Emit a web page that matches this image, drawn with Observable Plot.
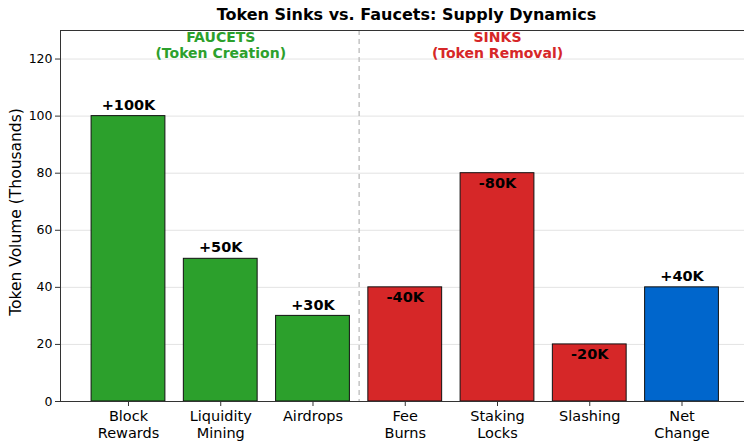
<!DOCTYPE html>
<html>
<head>
<meta charset="utf-8">
<script src="https://cdn.jsdelivr.net/npm/d3@7"></script>
<script src="https://cdn.jsdelivr.net/npm/@observablehq/plot@0.6"></script>
<style>
  html, body { margin: 0; padding: 0; background: white; }
</style>
</head>
<body>
<div id="chart"></div>
<script>
const title = "Token Sinks vs. Faucets: Supply Dynamics";
const yLabel = "Token Volume (Thousands)";
const categories = ["Block\nRewards", "Liquidity\nMining", "Airdrops", "Fee\nBurns", "Staking\nLocks", "Slashing", "Net\nChange"];
const values = [100, 50, 30, 40, 80, 20, 40];
const groups = ["faucet", "faucet", "faucet", "sink", "sink", "sink", "net"];
const valueLabels = ["+100K", "+50K", "+30K", "-40K", "-80K", "-20K", "+40K"];
const yTicks = [0, 20, 40, 60, 80, 100, 120];
const groupNames = ["faucet", "sink", "net"];
const groupColors = ["#2ca02c", "#d62728", "#0066cc"];
const sectionTexts = ["FAUCETS\n(Token Creation)", "SINKS\n(Token Removal)"];
const sectionAt = ["Liquidity\nMining", "Staking\nLocks"];
const sectionGroup = ["faucet", "sink"];
const dividerBetween = ["Airdrops", "Fee\nBurns"];

const data = categories.map((c, i) => ({i, cat: c, value: values[i], group: groups[i], label: valueLabels[i]}));
const sections = sectionTexts.map((t, k) => ({text: t, i: categories.indexOf(sectionAt[k]), group: sectionGroup[k]}));
const dividerX = (categories.indexOf(dividerBetween[0]) + categories.indexOf(dividerBetween[1])) / 2;
const colorOf = g => groupColors[groupNames.indexOf(g)];
const xMin = -0.737, xMax = 6.737;

const chart = Plot.plot({
  width: 744,
  height: 441,
  marginLeft: 60,
  marginRight: 0,
  marginTop: 30,
  marginBottom: 40,
  style: {fontFamily: "DejaVu Sans", background: "white", overflow: "visible", color: "#000"},
  x: {type: "linear", domain: [xMin, xMax], range: [60, 749.5]},
  y: {domain: [0, 130]},
  color: {domain: groupNames, range: groupColors},
  marks: [
    Plot.gridY(yTicks, {stroke: "#e3e3e3", strokeOpacity: 1}),
    Plot.ruleX([dividerX], {stroke: "#b5b5b5", strokeDasharray: "5,4", strokeWidth: 1.2}),
    Plot.rectY(data, {x1: d => d.i - 0.4, x2: d => d.i + 0.4, y: "value", fill: "group", stroke: "#111", strokeWidth: 1}),
    Plot.text(data.filter(d => d.group !== "sink"), {x: "i", y: "value", text: "label", dy: -11, fontWeight: "bold", fontSize: 14.5, fill: "#000"}),
    Plot.text(data.filter(d => d.group === "sink"), {x: "i", y: "value", text: "label", dy: 10, fontWeight: "bold", fontSize: 14.5, fill: "#000"}),
    Plot.text(sections, {x: "i", frameAnchor: "top", lineAnchor: "top", dy: 0, text: "text", fill: d => colorOf(d.group), fontWeight: "bold", fontSize: 14, lineHeight: 1.14}),
    Plot.ruleY([0], {stroke: "#333", strokeWidth: 1}),
    Plot.ruleY([130], {stroke: "#333", strokeWidth: 1}),
    Plot.ruleX([xMin], {stroke: "#333", strokeWidth: 1}),
    Plot.axisY({ticks: yTicks, tickSize: 5, tickPadding: 3, fontSize: 12.5, label: null, stroke: "#333"}),
    Plot.axisX({ticks: categories.map((c, i) => i), tickFormat: i => categories[i], tickSize: 5, tickPadding: 3, fontSize: 14.5, lineHeight: 1.15, label: null, stroke: "#333"}),
    Plot.text([title], {frameAnchor: "top", dy: -11, dx: 4, lineAnchor: "bottom", fontSize: 16, fontWeight: "bold", fill: "#000"}),
    Plot.text([yLabel], {frameAnchor: "left", textAnchor: "middle", dx: -44, dy: -4, rotate: -90, fontSize: 15.5, fill: "#000"})
  ]
});
document.getElementById("chart").appendChild(chart);
</script>
</body>
</html>
